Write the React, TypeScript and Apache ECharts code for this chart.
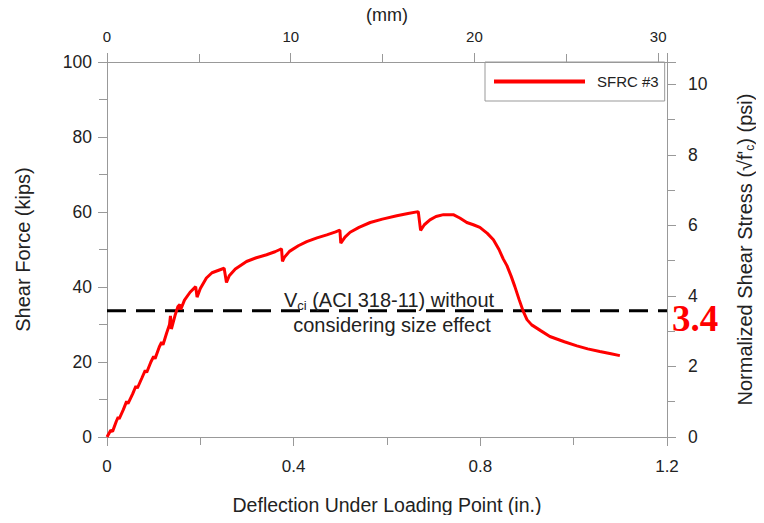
import React, { useEffect, useRef } from "react";
import * as echarts from "echarts";

const deflectionIn: number[] = [0, 0.008, 0.012, 0.02, 0.024, 0.026, 0.035, 0.042, 0.045, 0.055, 0.062, 0.065, 0.075, 0.082, 0.085, 0.094, 0.1, 0.103, 0.112, 0.117, 0.12, 0.128, 0.134, 0.136, 0.138, 0.146, 0.152, 0.156, 0.158, 0.166, 0.178, 0.19, 0.193, 0.2, 0.213, 0.225, 0.238, 0.251, 0.256, 0.262, 0.275, 0.299, 0.32, 0.342, 0.36, 0.374, 0.376, 0.38, 0.391, 0.41, 0.428, 0.45, 0.471, 0.49, 0.499, 0.501, 0.51, 0.521, 0.54, 0.564, 0.59, 0.621, 0.645, 0.667, 0.672, 0.68, 0.692, 0.705, 0.721, 0.742, 0.756, 0.771, 0.785, 0.799, 0.815, 0.828, 0.84, 0.849, 0.857, 0.866, 0.874, 0.883, 0.892, 0.9, 0.91, 0.93, 0.949, 0.98, 1.007, 1.03, 1.056, 1.08, 1.099];
const shearKips: number[] = [0, 1.8, 1.5, 4.2, 5.3, 4.8, 7.3, 9.5, 8.9, 11.5, 13.6, 13.0, 15.8, 17.8, 17.2, 20.0, 21.5, 20.9, 24.0, 25.3, 24.6, 27.8, 30.0, 32.3, 28.8, 32.5, 34.8, 35.3, 34.0, 36.5, 38.6, 40.1, 37.3, 39.6, 42.4, 43.8, 44.4, 45.0, 41.2, 43.0, 44.8, 46.8, 47.8, 48.6, 49.4, 50.2, 46.8, 47.9, 49.5, 51.0, 52.1, 53.1, 53.9, 54.7, 55.2, 51.7, 53.3, 54.6, 55.9, 57.2, 58.1, 59.0, 59.6, 60.1, 55.1, 56.6, 57.9, 58.8, 59.3, 59.3, 58.4, 57.2, 56.6, 55.9, 54.3, 52.6, 50.0, 47.5, 45.7, 42.9, 40.1, 36.7, 33.5, 31.3, 29.9, 28.3, 26.8, 25.4, 24.3, 23.5, 22.8, 22.2, 21.7];

const seriesName = "SFRC #3";
const vciKips = 33.65;
const vciLabel = "3.4";
const xRangeIn: number[] = [0, 1.2];
const xRangeMm: number[] = [0, 30.48];
const yRangeKips: number[] = [0, 100];
const yRangeNorm: number[] = [0, 10.63];

const FONT = "'Liberation Sans', Arial, sans-serif";
const AXIS_GRAY = "#999";
const TEXT = "#222";

function axisStyle() {
  return {
    axisLine: { show: true, onZero: false, lineStyle: { color: AXIS_GRAY, width: 1 } },
    axisTick: { show: true, inside: false, length: 9, lineStyle: { color: AXIS_GRAY } },
    minorTick: { show: true, splitNumber: 2, length: 8, lineStyle: { color: AXIS_GRAY } },
    splitLine: { show: false },
    minorSplitLine: { show: false },
  };
}

export default function App() {
  const ref = useRef<HTMLDivElement>(null);
  useEffect(() => {
    if (!ref.current) return;
    const chart = echarts.init(ref.current, null, { renderer: "svg" });
    const curve = deflectionIn.map((x, i) => [x, shearKips[i]]);
    chart.setOption({
      animation: false,
      textStyle: { fontFamily: FONT },
      grid: { left: 107, right: 97, top: 62, bottom: 86, containLabel: false },
      legend: {
        show: true,
        data: [{ name: seriesName, icon: "rect" }],
        left: 485,
        top: 62,
        orient: "horizontal",
        borderColor: AXIS_GRAY,
        borderWidth: 1,
        borderRadius: 0,
        padding: [12, 6, 12, 9],
        itemWidth: 91,
        itemHeight: 4,
        itemStyle: { color: "#ff0000" },
        textStyle: { fontSize: 15, color: TEXT, fontFamily: FONT, padding: [0, 0, 0, 7] },
      },
      xAxis: [
        {
          type: "value",
          position: "bottom",
          min: xRangeIn[0],
          max: xRangeIn[1],
          interval: 0.4,
          name: "Deflection Under Loading Point (in.)",
          nameLocation: "middle",
          nameGap: 58,
          nameTextStyle: { fontSize: 19.5, color: TEXT, fontFamily: FONT },
          axisLabel: { fontSize: 17, color: TEXT, margin: 21, fontFamily: FONT },
          ...axisStyle(),
        },
        {
          type: "value",
          position: "top",
          min: xRangeMm[0],
          max: xRangeMm[1],
          interval: 10,
          name: "(mm)",
          nameLocation: "middle",
          nameGap: 38,
          nameTextStyle: { fontSize: 18, color: TEXT, fontFamily: FONT },
          axisLabel: { fontSize: 15, color: TEXT, margin: 18, fontFamily: FONT, showMaxLabel: false },
          ...axisStyle(),
        },
      ],
      yAxis: [
        {
          type: "value",
          position: "left",
          min: yRangeKips[0],
          max: yRangeKips[1],
          interval: 20,
          name: "Shear Force (kips)",
          nameLocation: "middle",
          nameGap: 74,
          nameTextStyle: { fontSize: 20, color: TEXT, fontFamily: FONT },
          axisLabel: { fontSize: 17.5, color: TEXT, margin: 15, fontFamily: FONT },
          ...axisStyle(),
        },
        {
          type: "value",
          position: "right",
          min: yRangeNorm[0],
          max: yRangeNorm[1],
          interval: 2,
          name: "Normalized Shear Stress (√f'{sub|c}) (psi)",
          nameLocation: "middle",
          nameGap: 67,
          nameRotate: 90,
          nameTextStyle: {
            fontSize: 20,
            color: TEXT,
            fontFamily: FONT,
            rich: { sub: { fontSize: 12, color: TEXT, fontFamily: FONT, verticalAlign: "bottom", padding: [10, 0, 0, 0] } },
          },
          axisLabel: { fontSize: 17.5, color: TEXT, margin: 21, fontFamily: FONT, showMaxLabel: false },
          ...axisStyle(),
        },
      ],
      series: [
        {
          name: seriesName,
          type: "line",
          xAxisIndex: 0,
          yAxisIndex: 0,
          data: curve,
          showSymbol: false,
          symbol: "none",
          lineStyle: { color: "#ff0000", width: 3 },
          itemStyle: { color: "#ff0000" },
          z: 3,
        },
        {
          name: "Vci",
          type: "line",
          xAxisIndex: 0,
          yAxisIndex: 0,
          data: [
            [xRangeIn[0], vciKips],
            [xRangeIn[1], vciKips],
          ],
          showSymbol: false,
          symbol: "none",
          lineStyle: { color: "#000", width: 3, type: [19, 10] },
          z: 2,
        },
      ],
      graphic: [
        {
          type: "text",
          x: 389,
          y: 300,
          style: {
            text: "V{sub|ci} (ACI 318-11) without",
            textAlign: "center",
            textVerticalAlign: "middle",
            fill: TEXT,
            font: `20px ${FONT}`,
            rich: { sub: { fontSize: 13, fill: TEXT, fontFamily: FONT, verticalAlign: "bottom", padding: [10, 0, 0, 0] } },
          },
          z: 10,
        },
        {
          type: "text",
          x: 392,
          y: 325,
          style: {
            text: "considering size effect",
            textAlign: "center",
            textVerticalAlign: "middle",
            fill: TEXT,
            font: `20px ${FONT}`,
          },
          z: 10,
        },
        {
          type: "text",
          x: 672,
          y: 318,
          style: {
            text: vciLabel,
            textAlign: "left",
            textVerticalAlign: "middle",
            fill: "#ff0000",
            font: `bold 37px 'Liberation Serif', 'Times New Roman', serif`,
          },
          z: 10,
        },
      ],
    });
    return () => chart.dispose();
  }, []);
  return <div ref={ref} style={{ width: 764, height: 523, margin: -8 }} />;
}
